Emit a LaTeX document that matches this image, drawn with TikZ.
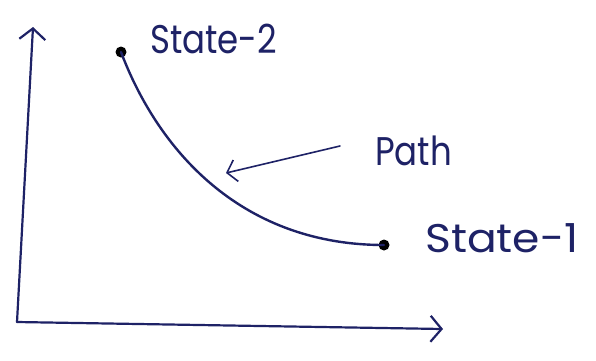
\documentclass[tikz,border=0pt]{standalone}
\usepackage{fontspec}
\setmainfont{Poppins}
\usetikzlibrary{arrows.meta}
\definecolor{inkc}{HTML}{1E2266}
\begin{document}
\begin{tikzpicture}[x=1pt,y=-1pt,
  ink/.style={draw=inkc, line width=2.2pt, line cap=round, line join=round},
  lbl/.style={text=inkc, font=\fontsize{40}{46}\selectfont, inner sep=0pt, anchor=base west},
  dot/.style={circle, fill=black, inner sep=0pt, minimum size=11pt},
  barb/.style={-{Straight Barb[length=11pt,width=26pt,line width=2.2pt]}}]
\useasboundingbox[fill=white] (0,0) rectangle (596,360);
\coordinate (O) at (17,322);
\coordinate (ytip) at (33,27);
\coordinate (xtip) at (443,329);
\draw[ink, barb] (O) -- (ytip);
\draw[ink, barb] (O) -- (xtip);
\node[dot] (s2) at (121,52) {};
\node[dot] (s1) at (384,245) {};
\draw[ink, line width=2.4pt] (s2.center) .. controls (160,155) and (245,245) .. (s1.center);
\node[lbl] (t2) at (150,53) {\scalebox{0.85}[1]{State-2}};
\node[lbl] (tp) at (375,165) {\scalebox{0.85}[1]{Path}};
\node[lbl] (t1) at (425,252) {\scalebox{1.1}[1]{State-1}};
\coordinate (pstart) at (340,146);
\coordinate (ptip) at (226,173);
\draw[ink, line width=1.6pt, -{Straight Barb[length=9pt,width=22pt,line width=1.6pt]}] (pstart) -- (ptip);
\end{tikzpicture}
\end{document}
